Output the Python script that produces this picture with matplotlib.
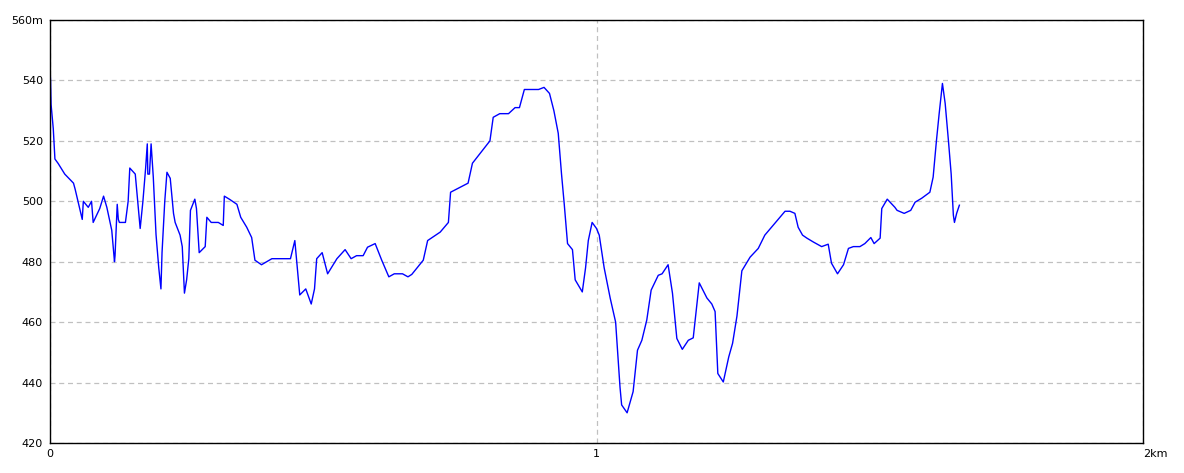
import numpy as np
import matplotlib
matplotlib.use("Agg")
import matplotlib.pyplot as plt

# 距離 (m) と標高 (m)
dist_m = [0, 1, 2, 6, 9, 15, 27, 43, 46, 55, 59, 61, 70, 76, 79, 91, 98, 104, 113, 118,
          119, 123, 125, 127, 138, 143, 146, 156, 165, 170, 175, 178, 179, 182, 185, 189, 194, 199, 203, 205,
          210, 214, 220, 226, 229, 238, 242, 246, 250, 254, 257, 265, 268, 273, 284, 287, 295, 308, 317, 319,
          329, 342, 349, 360, 369, 375, 387, 406, 440, 448, 453, 457, 468, 478, 484, 488, 498, 508, 525, 540,
          551, 561, 573, 581, 595, 607, 620, 630, 645, 655, 662, 683, 691, 714, 729, 733, 765, 773, 805, 811,
          823, 839, 851, 859, 868, 894, 904, 914, 922, 930, 936, 941, 947, 956, 961, 974, 980, 985, 992, 1000,
          1005, 1014, 1025, 1035, 1043, 1046, 1056, 1067, 1075, 1083, 1092, 1100, 1113, 1120, 1131, 1139, 1147, 1157, 1168, 1177,
          1188, 1202, 1211, 1217, 1222, 1232, 1242, 1249, 1257, 1266, 1281, 1296, 1308, 1345, 1354, 1363, 1369, 1377, 1385, 1397,
          1412, 1424, 1430, 1441, 1452, 1461, 1470, 1482, 1491, 1502, 1508, 1519, 1522, 1532, 1546, 1550, 1563, 1575, 1583, 1595,
          1610, 1616, 1622, 1627, 1633, 1638, 1644, 1649, 1653, 1655, 1659, 1664]
elev = [544, 540, 532, 524, 514, 512.5, 509, 506, 504, 497, 494, 500, 498, 500, 493, 497.6, 501.7, 498, 490.4, 480,
        482, 499, 494, 493, 493, 500, 511, 509, 491, 500, 511, 519, 509, 509, 519, 508, 489, 478, 471, 483,
        500, 509.6, 507.6, 496, 493, 488.8, 485, 469.6, 474, 481, 497, 500.7, 497.6, 483, 485, 494.7, 493, 493, 492, 501.7,
        500.6, 499, 494.7, 491.4, 488, 480.5, 479, 481, 481, 487, 477, 469, 471, 466, 471, 481, 483, 476, 481, 484,
        481, 482, 482, 484.8, 486, 480.5, 475, 476, 476, 475, 475.8, 480.5, 487, 489.8, 493, 503, 506, 512.6, 520, 527.8,
        529, 529, 531, 531, 537, 537, 537.7, 535.7, 530, 522.5, 509, 499, 486, 484, 474, 470, 478, 487, 493, 491,
        488.8, 478, 468, 460, 438.5, 432.6, 430, 437, 450.7, 454, 460.7, 470.6, 475.5, 476, 479, 469.6, 454.6, 451, 454, 454.8,
        473, 468, 466, 463.5, 443, 440.2, 448.5, 453, 462, 477, 481.5, 484.4, 488.8, 496.7, 496.7, 496, 491.4, 488.8, 487.8, 486.5,
        485, 485.8, 479.5, 476, 479, 484.4, 485, 485, 486, 488, 486, 487.8, 497.6, 500.7, 498, 497, 496, 497, 499.7, 501,
        503, 508, 520, 529, 539, 532.4, 520, 509, 495.4, 493, 496, 498.7]

x_ticks = [0, 1, 2]
x_labels = ["0", "1", "2km"]
y_ticks = [420, 440, 460, 480, 500, 520, 540, 560]
y_labels = ["420", "440", "460", "480", "500", "520", "540", "560m"]

fig = plt.figure(figsize=(11.84, 4.73), dpi=100)
ax = fig.add_axes([50 / 1184, 30 / 473, 1093 / 1184, 423 / 473])

ax.plot(np.array(dist_m) / 1000.0, elev, color="#0000ff", lw=1.0)

ax.set_xlim(0, 2)
ax.set_ylim(420, 560)
ax.set_xticks(x_ticks)
ax.set_xticklabels(x_labels)
ax.set_yticks(y_ticks)
ax.set_yticklabels(y_labels)
ax.get_xticklabels()[-1].set_horizontalalignment("left")

ax.tick_params(length=0, labelsize=8, pad=5)
ax.tick_params(axis="x", pad=4)
ax.grid(True, color="#c0c0c0", linestyle=(0, (4, 3)), lw=0.9)
for s in ax.spines.values():
    s.set_linewidth(1.0)
    s.set_color("black")

fig.savefig("out.png", dpi=100)
